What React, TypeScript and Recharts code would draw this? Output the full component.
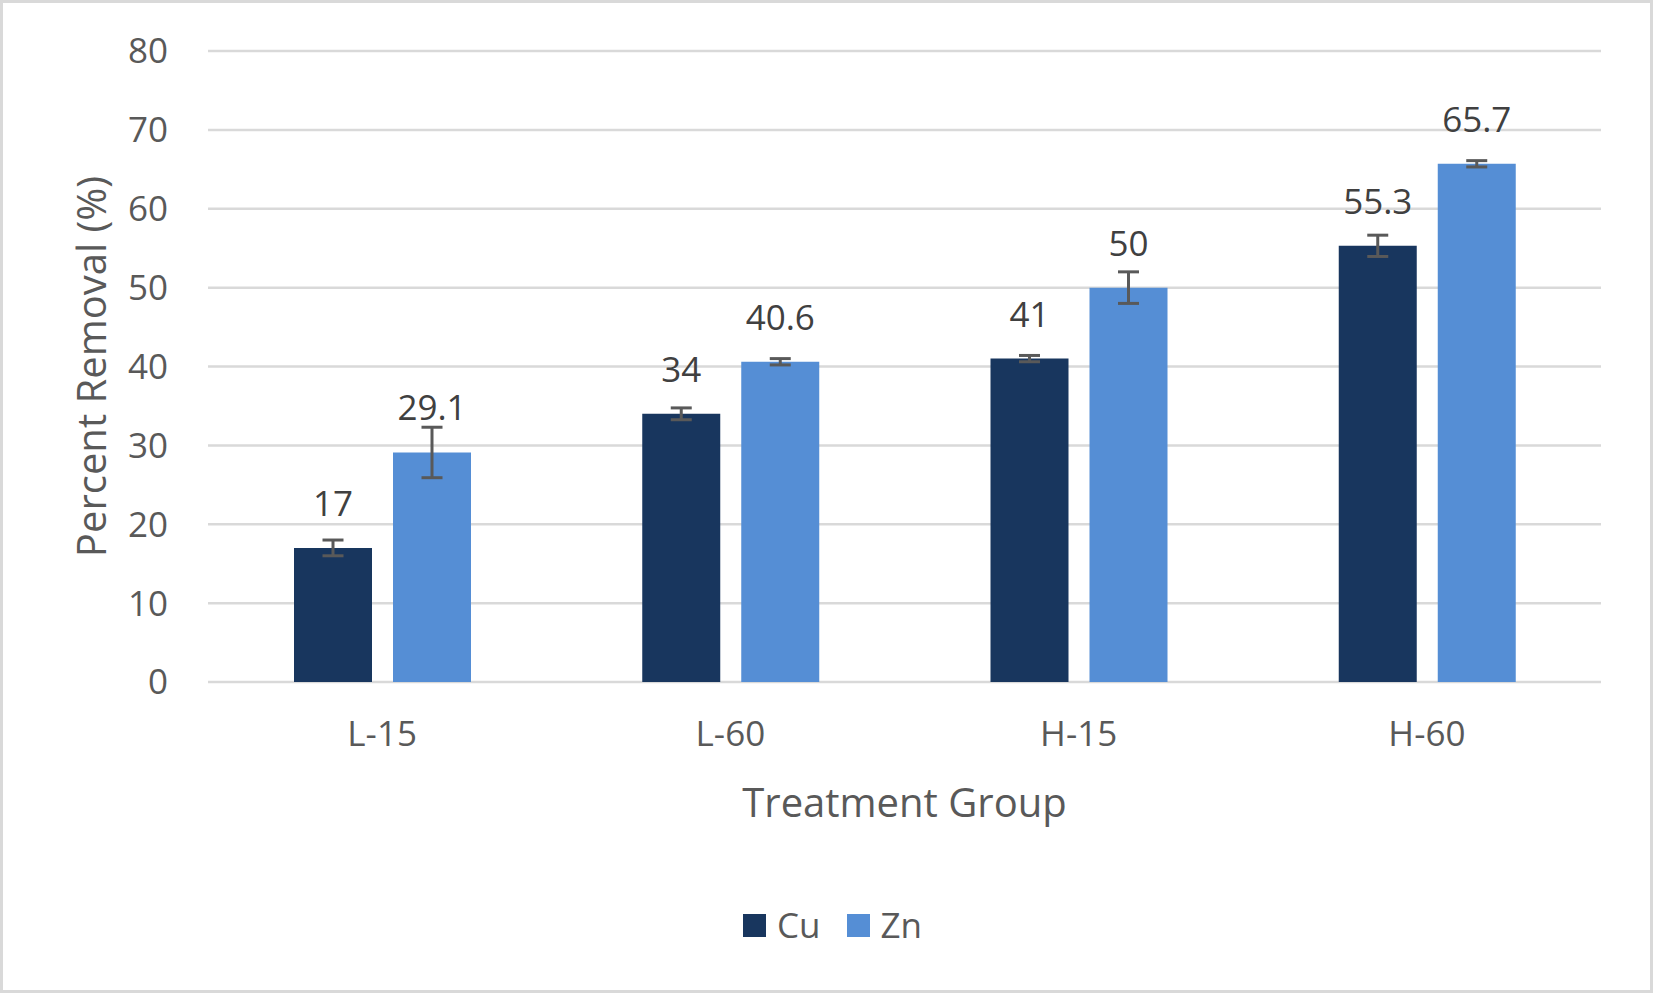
import React from 'react';
import { BarChart, Bar, XAxis, YAxis, CartesianGrid, Legend, LabelList, ErrorBar } from 'recharts';

const categories = ['L-15', 'L-60', 'H-15', 'H-60'];
const cuValues = [17, 34, 41, 55.3];
const znValues = [29.1, 40.6, 50, 65.7];
const cuErrors = [1.0, 0.75, 0.4, 1.35];
const znErrors = [3.2, 0.4, 2.0, 0.4];
const yTicks = [0, 10, 20, 30, 40, 50, 60, 70, 80];
const seriesNames = ['Cu', 'Zn'];
const seriesColors = ['#18365E', '#558ED5'];
const xTitle = 'Treatment Group';
const yTitle = 'Percent Removal (%)';

const data = categories.map((name, i) => ({
  name,
  Cu: cuValues[i],
  Zn: znValues[i],
  cuErr: cuErrors[i],
  znErr: znErrors[i],
}));

const FONT = "'Open Sans', 'Noto Sans', sans-serif";
const W = 1653;
const H = 993;

const XTitle = (props: any) => {
  const vb = props.viewBox || {};
  return (
    <text x={vb.x + vb.width / 2} y={vb.y + 135} textAnchor="middle" fill="#595959" fontSize={40} fontFamily={FONT}>
      {xTitle}
    </text>
  );
};

const YTitle = (props: any) => {
  const vb = props.viewBox || {};
  const cx = 90;
  const cy = vb.y + vb.height / 2;
  return (
    <text x={cx} y={cy} transform={`rotate(-90 ${cx} ${cy})`} textAnchor="middle" dominantBaseline="central" fill="#595959" fontSize={40} fontFamily={FONT}>
      {yTitle}
    </text>
  );
};

const renderLegend = () => (
  <div style={{ height: 80 }}>
    <div style={{ display: 'flex', justifyContent: 'center', alignItems: 'center', height: 24, paddingLeft: 12, fontSize: 35, color: '#595959', fontFamily: FONT }}>
      {seriesNames.map((n, i) => (
        <div key={n} style={{ display: 'flex', alignItems: 'center', marginRight: i === 0 ? 26 : 0 }}>
          <div style={{ width: 23, height: 23, background: seriesColors[i], marginRight: 11 }} />
          <span style={{ lineHeight: '24px' }}>{n}</span>
        </div>
      ))}
    </div>
  </div>
);

export default function App() {
  return (
    <div style={{ position: 'absolute', left: 0, top: 0, width: W, height: H, background: '#fff' }}>
      <BarChart
        width={W}
        height={H}
        data={data}
        margin={{ top: 51, right: 52, bottom: 0, left: 0 }}
        barSize={78}
        barGap={21}
        style={{ fontFamily: FONT }}
      >
        <CartesianGrid vertical={false} stroke="#D9D9D9" strokeWidth={2.5} />
        <XAxis
          dataKey="name"
          height={231}
          axisLine={false}
          tickLine={false}
          tickSize={0}
          tickMargin={39}
          tick={{ fill: '#595959', fontSize: 35, fontFamily: FONT }}
          label={<XTitle />}
        />
        <YAxis
          width={208}
          domain={[0, 80]}
          ticks={yTicks}
          axisLine={false}
          tickLine={false}
          tickSize={0}
          tickMargin={40}
          tick={{ fill: '#595959', fontSize: 35, fontFamily: FONT }}
          label={<YTitle />}
        />
        <Legend verticalAlign="bottom" align="center" content={renderLegend} wrapperStyle={{ left: 0, width: W, bottom: 0 }} />
        <Bar dataKey="Cu" name={seriesNames[0]} fill={seriesColors[0]} isAnimationActive={false}>
          <ErrorBar dataKey="cuErr" width={10.5} stroke="#595959" strokeWidth={3} direction="y" />
          <LabelList dataKey="Cu" position="top" offset={32} fill="#404040" fontSize={35} fontFamily={FONT} />
        </Bar>
        <Bar dataKey="Zn" name={seriesNames[1]} fill={seriesColors[1]} isAnimationActive={false}>
          <ErrorBar dataKey="znErr" width={10.5} stroke="#595959" strokeWidth={3} direction="y" />
          <LabelList dataKey="Zn" position="top" offset={32} fill="#404040" fontSize={35} fontFamily={FONT} />
        </Bar>
      </BarChart>
      <div style={{ position: 'absolute', left: 0, top: 0, width: W, height: H, boxSizing: 'border-box', border: '3px solid #D9D9D9', pointerEvents: 'none' }} />
    </div>
  );
}
